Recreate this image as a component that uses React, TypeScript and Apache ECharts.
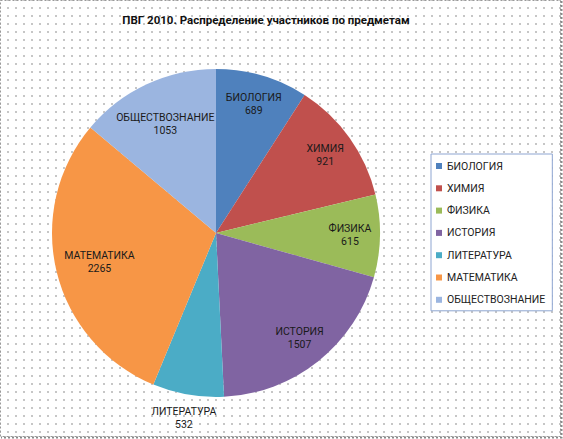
import React, { useEffect, useRef } from "react";
import * as echarts from "echarts";

const titleText = "ПВГ 2010. Распределение участников по предметам";
const subjects = ["БИОЛОГИЯ", "ХИМИЯ", "ФИЗИКА", "ИСТОРИЯ", "ЛИТЕРАТУРА", "МАТЕМАТИКА", "ОБЩЕСТВОЗНАНИЕ"];
const participants = [689, 921, 615, 1507, 532, 2265, 1053];
const colors = ["#4F81BD", "#C0504D", "#9BBB59", "#8064A2", "#4BACC6", "#F79646", "#9BB5E0"];

const FONT = "Roboto, 'Noto Sans', sans-serif";

export default function App() {
  const ref = useRef<HTMLDivElement>(null);

  useEffect(() => {
    document.body.style.margin = "0";
    if (!ref.current) return;
    const chart = echarts.init(ref.current, null, { renderer: "svg" });

    const cx = 216;
    const cy = 233;
    const R = 164;

    // label rings: each label is drawn at the middle of an invisible ring
    const labelRings = [
      { radius: [98, R], members: ["БИОЛОГИЯ", "ХИМИЯ", "ФИЗИКА", "ИСТОРИЯ"] },
      { radius: [86, 148], members: ["МАТЕМАТИКА", "ОБЩЕСТВОЗНАНИЕ"] },
      { radius: [176, 194], members: ["ЛИТЕРАТУРА"] },
    ];

    const labelStyle = {
      color: "#1a1a1a",
      fontFamily: FONT,
      fontSize: 10.5,
      lineHeight: 13,
      formatter: "{b}\n{c}",
    };

    const mainData = subjects.map((s, i) => ({
      name: s,
      value: participants[i],
      itemStyle: { color: colors[i] },
    }));

    const labelSeries = labelRings.map((ring) => ({
      type: "pie",
      center: [cx, cy],
      radius: ring.radius,
      startAngle: 90,
      clockwise: true,
      silent: true,
      data: subjects.map((s, i) => ({
        name: s,
        value: participants[i],
        itemStyle: { color: "rgba(0,0,0,0)" },
        label: { show: ring.members.includes(s) },
      })),
      label: { ...labelStyle, position: "inside" },
      labelLine: { show: false },
      itemStyle: { borderWidth: 0 },
      emphasis: { disabled: true },
      z: 3,
    }));

    chart.setOption({
      animation: false,
      color: colors,
      title: {
        text: titleText,
        left: 261,
        top: 9,
        textAlign: "center",
        textStyle: { fontFamily: FONT, fontSize: 11.5, fontWeight: "bold", color: "#111" },
      },
      legend: {
        orient: "vertical",
        left: 431,
        top: 154,
        data: subjects,
        itemWidth: 6,
        itemHeight: 6,
        itemGap: 10.3,
        icon: "rect",
        padding: [6, 7, 5, 5],
        borderColor: "#8EA5D1",
        borderWidth: 1,
        backgroundColor: "#ffffff",
        selectedMode: false,
        textStyle: { fontFamily: FONT, fontSize: 10.5, color: "#222", lineHeight: 12 },
      },
      graphic: [
        {
          type: "rect",
          shape: { x: 0.5, y: 0.5, width: 560, height: 436 },
          style: { fill: "none", stroke: "#999", lineWidth: 1, lineDash: [2, 2] },
          silent: true,
        },
        {
          type: "polyline",
          shape: { points: [[561.5, 1], [561.5, 437.5], [1, 437.5]] },
          style: { fill: "none", stroke: "#888", lineWidth: 2, lineDash: [2, 2] },
          silent: true,
        },
      ],
      series: [
        {
          type: "pie",
          center: [cx, cy],
          radius: [0, R],
          startAngle: 90,
          clockwise: true,
          silent: true,
          data: mainData,
          label: { show: false },
          labelLine: { show: false },
          itemStyle: { borderWidth: 0 },
          emphasis: { disabled: true },
        },
        ...labelSeries,
      ],
    });

    return () => chart.dispose();
  }, []);

  return (
    <div
      ref={ref}
      style={{
        width: 563,
        height: 439,
        backgroundColor: "#ffffff",
        backgroundImage: "radial-gradient(circle, #c4c4c4 0.7px, rgba(255,255,255,0) 0.9px)",
        backgroundSize: "8px 8px",
        backgroundPosition: "4px 4px",
      }}
    />
  );
}
